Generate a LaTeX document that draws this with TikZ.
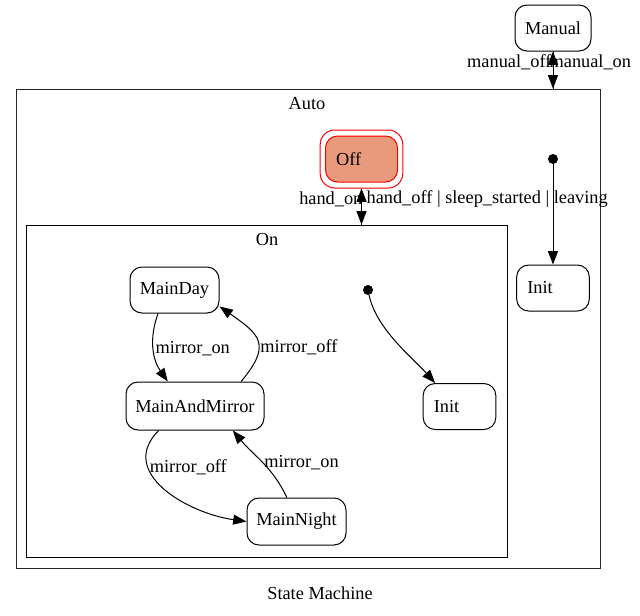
\documentclass[tikz,border=0pt]{standalone}
\usepackage{fontspec}
\setmainfont{Liberation Serif}
\usetikzlibrary{arrows.meta}
\usetikzlibrary{calc}
\definecolor{offfill}{RGB}{234,154,124}
\tikzstyle{state} = [draw,
	rounded corners=9pt,
	minimum height=34.5pt,
	inner sep=0pt,
	line width=0.75pt]
\tikzstyle{leftstate} = [state, align=left, inner xsep=8pt, text width=38.5pt]
\tikzstyle{cluster} = [draw, line width=0.7pt, inner sep=0pt]
\tikzstyle{arrow} = [-{Triangle[length=10pt, width=7.5pt]}, line width=0.75pt]
\tikzstyle{elabel} = [inner sep=1pt]
\newcommand{\drawinit}[2]{\node[circle,
	fill,
	inner sep=0pt,
	minimum size=7.5pt
	] (#1) at #2 {}}

\begin{document}
\begin{tikzpicture}[x=0.75pt, y=-0.75pt, every node/.style={font=\fontsize{13.75}{16}\selectfont}]
			\useasboundingbox (0,0) rectangle (640,615);
			
			% clusters
			\node (auto) [cluster, draw=black!85, minimum width=438pt, minimum height=359.25pt] at (308,328.5) {};
			\node (autolabel) at (307,104) {Auto};
			\node (oncl) [cluster, minimum width=360.75pt, minimum height=249pt] at (266.5,391) {};
			\node (onlabel) at (267,240) {On};
			
			% states
			\node (manual) [state, minimum width=57pt] at (553,28) {Manual};
			\node (off) [state, align=left, inner xsep=8pt, text width=38pt, fill=offfill, draw=red] at (361.5,159) {Off};
			\node (offring) [state, draw=red, rounded corners=11pt, minimum width=62pt, minimum height=43.5pt] at (off) {};
			\node (autoinit) [leftstate] at (553,288) {Init};
			\node (oninit) [leftstate] at (459.5,406.5) {Init};
			\node (mainday) [state, minimum width=66.75pt] at (174.5,290) {MainDay};
			\node (mainmirror) [state, minimum width=103.5pt, minimum height=36pt] at (195,406) {MainAndMirror};
			\node (mainnight) [state, minimum width=74.25pt, minimum height=35.25pt] at (296.5,521.5) {MainNight};
			
			\drawinit{autostart}{(553,159)};
			\drawinit{onstart}{(368,290)};
			
			% Manual <-> Auto
			\coordinate (autotop) at (auto.north -| manual);
			\draw [arrow] (autotop) -- (manual);
			\draw [arrow] (manual) -- (autotop);
			\node (manoff) [elabel, anchor=east] at (553,62) {manual\_off};
			\node (manon) [elabel, anchor=west] at (548,62) {manual\_on};
			
			% Off <-> On
			\coordinate (ontop) at (oncl.north -| off);
			\draw [arrow] (ontop) -- (offring);
			\draw [arrow] (offring) -- (ontop);
			\node (handon) [elabel, anchor=east] at (364,199) {hand\_on};
			\node (handoff) [elabel, anchor=west] at (365,199) {hand\_off | sleep\_started | leaving};
			
			% initial transitions
			\draw [arrow] (autostart) -- (autoinit);
			\draw [arrow] (onstart) to[out=-78, in=132, looseness=0.8] (oninit.136);
			
			% mirror transitions
			\draw [arrow] (mainday.235) to[out=-110, in=125] node [elabel, right] {mirror\_on} (mainmirror.138);
			\draw [arrow] (mainmirror.28) to[out=50, in=-35, looseness=1.6] node [elabel, right, pos=0.4] {mirror\_off} (mainday.340);
			\draw [arrow] (mainmirror.214) to[out=-135, in=172, looseness=1.2] node [elabel, right, pos=0.3] {mirror\_off} (mainnight.west);
			\draw [arrow] (mainnight.112) to[out=115, in=-50] node [elabel, right] {mirror\_on} (mainmirror.327);
			
			\node (title) at (320,593) {State Machine};
		\end{tikzpicture}
\end{document}
